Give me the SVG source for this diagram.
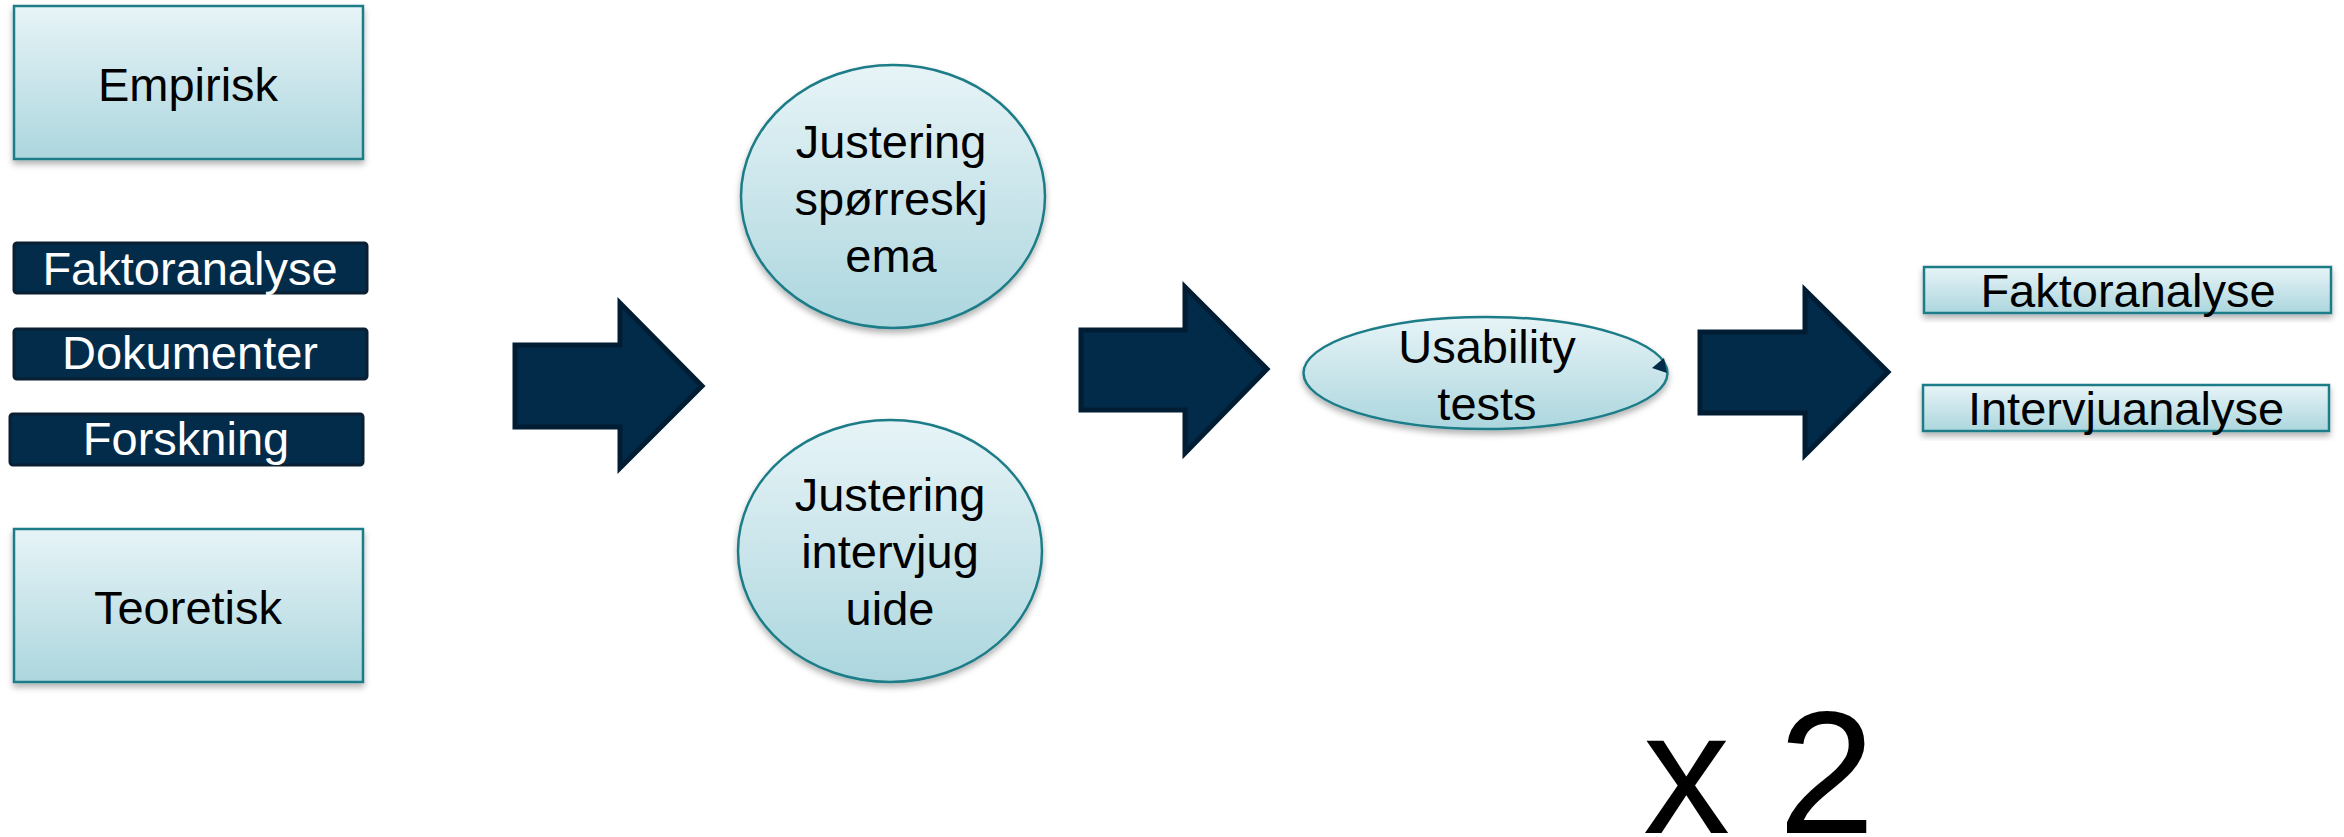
<svg xmlns="http://www.w3.org/2000/svg" width="2344" height="837" viewBox="0 0 2344 837">
<style>
.lt{font-family:"Liberation Sans",Arial,sans-serif;font-size:47px;fill:#000;text-anchor:middle}
.wt{font-family:"Liberation Sans",Arial,sans-serif;font-size:47px;fill:#fff;text-anchor:middle}
.light{fill:url(#g);stroke:#1c7c87;stroke-width:2.5;filter:url(#sh)}
.dark{fill:#032c4b;stroke:#0b1f33;stroke-width:3}
.arrow{fill:#022b4a;stroke:#011d33;stroke-width:5;stroke-linejoin:miter}
</style>
<defs>
<linearGradient id="g" x1="0" y1="0" x2="0" y2="1">
<stop offset="0" stop-color="#e7f4f7"/>
<stop offset="1" stop-color="#acd6de"/>
</linearGradient>
<filter id="sh" x="-10%" y="-10%" width="120%" height="130%">
<feDropShadow dx="0" dy="4" stdDeviation="3" flood-color="#000" flood-opacity="0.3"/>
</filter>
</defs>
<rect width="2344" height="837" fill="#fff"/>
<g id="empirisk"><rect class="light" x="14" y="6" width="349" height="153"/><text class="lt" x="188" y="101">Empirisk</text></g>
<g id="faktoranalyse-l"><rect class="dark" x="14" y="243" width="353" height="50" rx="3"/><text class="wt" x="190" y="285">Faktoranalyse</text></g>
<g id="dokumenter"><rect class="dark" x="14" y="329" width="353" height="50" rx="3"/><text class="wt" x="190" y="369">Dokumenter</text></g>
<g id="forskning"><rect class="dark" x="10" y="414" width="353" height="51" rx="3"/><text class="wt" x="186" y="455">Forskning</text></g>
<g id="teoretisk"><rect class="light" x="14" y="529" width="349" height="153"/><text class="lt" x="188" y="624">Teoretisk</text></g>
<g id="justering-sp"><ellipse class="light" cx="893" cy="196.5" rx="152" ry="131.5"/><text class="lt" x="891" y="158">Justering</text><text class="lt" x="891" y="215">spørreskj</text><text class="lt" x="891" y="272">ema</text></g>
<g id="justering-iv"><ellipse class="light" cx="890" cy="551" rx="152" ry="131"/><text class="lt" x="890" y="511">Justering</text><text class="lt" x="890" y="568">intervjug</text><text class="lt" x="890" y="625">uide</text></g>
<g id="usability"><ellipse class="light" cx="1485.5" cy="373" rx="182" ry="56"/><path d="M1664,358 L1652,368 L1667,373 Z" fill="#022b4a"/><text class="lt" x="1487" y="363">Usability</text><text class="lt" x="1487" y="420">tests</text></g>
<g id="faktoranalyse-r"><rect class="light" x="1924" y="267" width="407" height="46"/><text class="lt" x="2128" y="307">Faktoranalyse</text></g>
<g id="intervjuanalyse"><rect class="light" x="1923" y="385" width="406" height="46"/><text class="lt" x="2126" y="425">Intervjuanalyse</text></g>
<g id="connectors">
<path class="arrow" d="M515,345 H620 V303 L702,386 L620,468 V427 H515 Z"/>
<path class="arrow" d="M1081,330 H1185 V287 L1267,369 L1185,453 V410 H1081 Z"/>
<path class="arrow" d="M1700,332 H1805 V290 L1888,372 L1805,455 V413 H1700 Z"/>
</g>
<text x="1643" y="833" font-family="'Liberation Sans',Arial,sans-serif" font-size="174" fill="#000">x 2</text>
</svg>
